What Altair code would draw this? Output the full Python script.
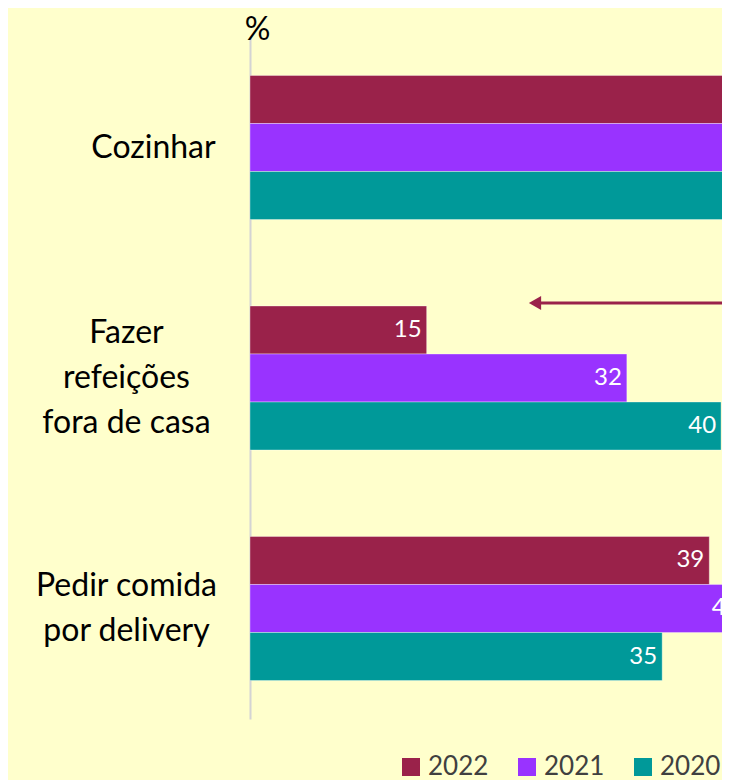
import altair as alt
import pandas as pd

categories = ["Cozinhar", "Fazer|refeições|fora de casa", "Pedir comida|por delivery"]
years = ["2022", "2021", "2020"]
values_2022 = [72, 15, 39]
values_2021 = [68, 32, 42]
values_2020 = [63, 40, 35]
colors = ["#9A224A", "#9933FF", "#009999"]

# arrow annotation (data units)
arrow_tip = 24.2
arrow_from = 45

rows = []
for y, vals in zip(years, [values_2022, values_2021, values_2020]):
    for c, v in zip(categories, vals):
        rows.append({"cat": c, "year": y, "value": v})
df = pd.DataFrame(rows)

x_enc = alt.X("value:Q", scale=alt.Scale(domain=[0, 40.08], nice=False, zero=True), axis=None)
y_enc = alt.Y(
    "cat:N",
    sort=categories,
    scale=alt.Scale(paddingInner=0.375, paddingOuter=0.167),
    axis=alt.Axis(
        title="%",
        titleAngle=0,
        titleX=7,
        titleY=2,
        titleAlign="center",
        titleBaseline="alphabetic",
        titleFontSize=32,
        titleFont="Lato",
        titleFontWeight="normal",
        titleColor="black",
        labelExpr="split(datum.label, '|')",
        labelFontSize=32,
        labelFont="Lato",
        labelColor="black",
        labelAlign="center",
        labelLimit=400,
        labelPadding={"condition": {"test": "datum.value == 'Cozinhar'", "value": 97}, "value": 124},
        labelOffset={
            "condition": [
                {"test": "datum.value == 'Cozinhar'", "value": 0},
                {"test": "datum.value == 'Pedir comida|por delivery'", "value": -22},
            ],
            "value": -45,
        },
        labelLineHeight=45,
        labelBaseline="middle",
        ticks=False,
        domainColor="#D4D4D4",
        domainWidth=2,
        grid=False,
    ),
)
yoff = alt.YOffset("year:N", sort=years, scale=alt.Scale(paddingInner=0, paddingOuter=0))

bars = alt.Chart(df).mark_bar(clip=True, stroke="#ffffff", strokeWidth=1, strokeOpacity=0.35).encode(
    x=x_enc,
    y=y_enc,
    yOffset=yoff,
    color=alt.Color(
        "year:N",
        scale=alt.Scale(domain=years, range=colors),
        legend=alt.Legend(
            title=None,
            orient="none",
            legendX=148,
            legendY=717,
            direction="horizontal",
            symbolType="square",
            symbolSize=324,
            symbolStrokeWidth=0,
            symbolOpacity=1,
            labelFontSize=26,
            labelFont="Lato",
            labelColor="#404040",
            columnPadding=25,
            padding=0,
        ),
    ),
)

labels = alt.Chart(df).mark_text(
    align="right", baseline="middle", dx=-5, color="white", fontSize=24, font="Lato", clip=True
).encode(x=x_enc, y=alt.Y("cat:N", sort=categories), yOffset=yoff, text="value:Q")

arrow_df = pd.DataFrame({"x": [arrow_tip], "x2": [arrow_from], "cat": [categories[1]]})
arrow_line = alt.Chart(arrow_df).mark_rule(color="#9A224A", strokeWidth=3, clip=True, yOffset=-75).encode(
    x=alt.X("x:Q"), x2="x2:Q", y=alt.Y("cat:N", sort=categories)
)
arrow_head = alt.Chart(arrow_df).mark_point(
    shape="triangle-left", filled=True, size=200, color="#9A224A", opacity=1, yOffset=-75
).encode(x=alt.X("x:Q"), y=alt.Y("cat:N", sort=categories))

chart = (
    alt.layer(bars, labels, arrow_line, arrow_head)
    .properties(
        width=472,
        height=682,
        background="#FFFFCC",
        padding={"left": 242, "top": 29, "right": 0, "bottom": 62},
        autosize=alt.AutoSizeParams(type="none"),
    )
    .configure_view(stroke=None)
)

chart.save("out.html", embed_options={"renderer": "svg", "actions": False})
